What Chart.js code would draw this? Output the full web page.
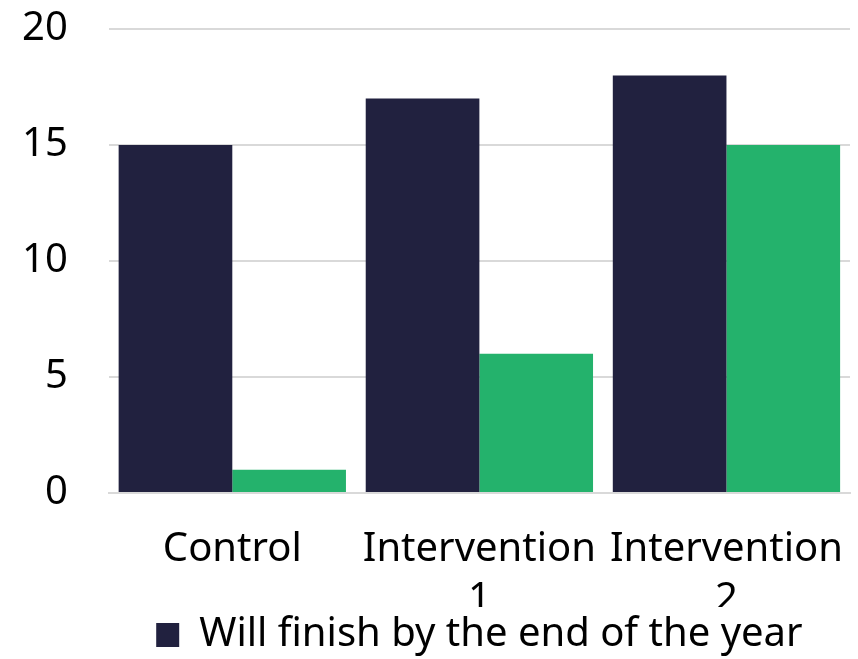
<!DOCTYPE html>
<html>
<head>
<meta charset="utf-8">
<script src="https://cdn.jsdelivr.net/npm/chart.js@4/dist/chart.umd.min.js"></script>
<style>
  html, body { margin: 0; padding: 0; background: #ffffff; overflow: hidden; }
  #wrap { width: 858px; height: 659px; position: relative; }
</style>
</head>
<body>
<div id="wrap"><canvas id="chart"></canvas></div>
<script>
// Groups along the x axis (multi-line labels)
const categories = ["Control", ["Intervention", "1"], ["Intervention", "2"]];
// Series values per group
const finishByYearEnd = [15, 17, 18];
const secondSeries = [1, 6, 15];
const seriesNames = ["Will finish by the end of the year", "Already finished"];
// Y axis ticks
const yTicks = [0, 5, 10, 15, 20];

const FONT = "'Noto Sans', 'Open Sans', sans-serif";

// Center the legend under the plot area instead of the whole canvas
const legendUnderPlot = {
  id: 'legendUnderPlot',
  afterLayout(chart) {
    const lg = chart.legend;
    if (!lg) return;
    const h = lg.bottom - lg.top;
    lg.left = chart.chartArea.left;
    lg.right = chart.chartArea.right;
    lg.top += 6;
    lg.bottom = lg.top + h;
  }
};

new Chart(document.getElementById('chart'), {
  type: 'bar',
  plugins: [legendUnderPlot],
  data: {
    labels: categories,
    datasets: [
      {
        label: seriesNames[0],
        data: finishByYearEnd,
        backgroundColor: '#21213f',
        borderWidth: 0,
        categoryPercentage: 0.92,
        barPercentage: 1.0
      },
      {
        label: seriesNames[1],
        data: secondSeries,
        backgroundColor: '#24b26c',
        borderWidth: 0,
        categoryPercentage: 0.92,
        barPercentage: 1.0
      }
    ]
  },
  options: {
    responsive: true,
    maintainAspectRatio: false,
    animation: false,
    layout: { padding: { top: 29, right: 8, left: 20, bottom: 0 } },
    plugins: {
      tooltip: { enabled: false },
      legend: {
        position: 'bottom',
        labels: {
          filter: (item) => item.datasetIndex === 0,
          font: { family: FONT, size: 40, lineHeight: 1.0 },
          color: '#000000',
          boxWidth: 23,
          boxHeight: 24,
          padding: 2
        }
      }
    },
    scales: {
      x: {
        grid: { display: false, drawTicks: false },
        border: { display: true, color: '#d9d9d9', width: 2 },
        ticks: {
          color: '#000000',
          font: { family: FONT, size: 40, lineHeight: 1.25 },
          maxRotation: 0,
          autoSkip: false,
          padding: 32
        },
        afterFit: (axis) => {
          // labels may spill past the plot edges; keep the plot wide
          axis.paddingLeft = 0;
          axis.paddingRight = 0;
          axis.height = 114;
        }
      },
      y: {
        min: 0,
        max: 20,
        afterBuildTicks: (axis) => { axis.ticks = yTicks.map(v => ({ value: v })); },
        grid: { color: '#d9d9d9', lineWidth: 2, drawTicks: true, tickLength: 39, tickColor: 'rgba(0,0,0,0)' },
        border: { display: false },
        ticks: {
          color: '#000000',
          font: { family: FONT, size: 40 },
          padding: 2
        }
      }
    }
  }
});
</script>
</body>
</html>
